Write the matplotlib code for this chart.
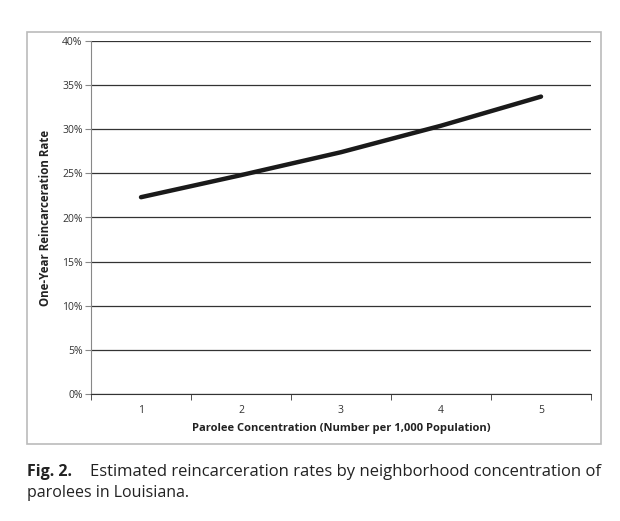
import numpy as np
import matplotlib.pyplot as plt
from matplotlib.patches import Rectangle

concentration = ["1", "2", "3", "4", "5"]
rate = [22.3, 24.8, 27.4, 30.4, 33.7]
y_ticks = [0, 5, 10, 15, 20, 25, 30, 35, 40]

plt.rcParams['font.family'] = ['Open Sans', 'DejaVu Sans']

fig = plt.figure(figsize=(6.2, 5.21), dpi=100)
ax = fig.add_axes([91/620, 1-394/521, 500/620, 353/521])

x = np.arange(1, len(concentration) + 1)
ax.plot(x, rate, color='#1a1a1a', lw=3.2, solid_capstyle='round', solid_joinstyle='round', zorder=3)

ax.set_xlim(0.5, 5.5)
ax.set_ylim(0, 40)
ax.set_yticks(y_ticks)
ax.set_yticklabels([str(t) + "%" for t in y_ticks], fontsize=7.5, color='#333333')
ax.set_xticks(x)
ax.set_xticklabels(concentration, fontsize=7.5, color='#333333')
ax.set_xticks(np.arange(0.5, 6, 1), minor=True)
ax.tick_params(axis='x', which='major', length=0, pad=8)
ax.tick_params(axis='x', which='minor', length=4, direction='out', color='#333333')
ax.tick_params(axis='y', length=4, direction='out', color='#888888', pad=2)

ax.grid(axis='y', color='#333333', lw=0.9)
ax.set_axisbelow(True)
for s in ['top', 'right']:
    ax.spines[s].set_visible(False)
ax.spines['left'].set_color('#888888')
ax.spines['bottom'].set_color('#333333')

ax.set_xlabel("Parolee Concentration (Number per 1,000 Population)", fontsize=8, fontweight='bold', color='#222222', labelpad=5)
ax.set_ylabel("One-Year Reincarceration Rate", fontsize=8.3, fontweight='bold', color='#222222', labelpad=7)

# grey frame round the chart
fig.patches.append(Rectangle((27/620, 1-444/521), 574/620, 412/521, transform=fig.transFigure,
                             fill=False, edgecolor='#bbbbbb', lw=1.2))

fig.text(27/620, 1-472/521, "Fig. 2.", fontsize=11.5, fontweight='bold', va='center', color='#222222')
cap = fig.text(90/620, 1-472/521, "Estimated reincarceration rates by neighborhood concentration of",
               fontsize=11.5, va='center', ha='left', color='#222222')
fig.text(27/620, 1-493/521, "parolees in Louisiana.", fontsize=11.5, va='center', color='#222222')

# stretch first caption line to the right margin
fig.canvas.draw()
w = cap.get_window_extent().width
cap.set_fontsize(11.5 * 513 / w)

fig.savefig("out.png", dpi=100)
